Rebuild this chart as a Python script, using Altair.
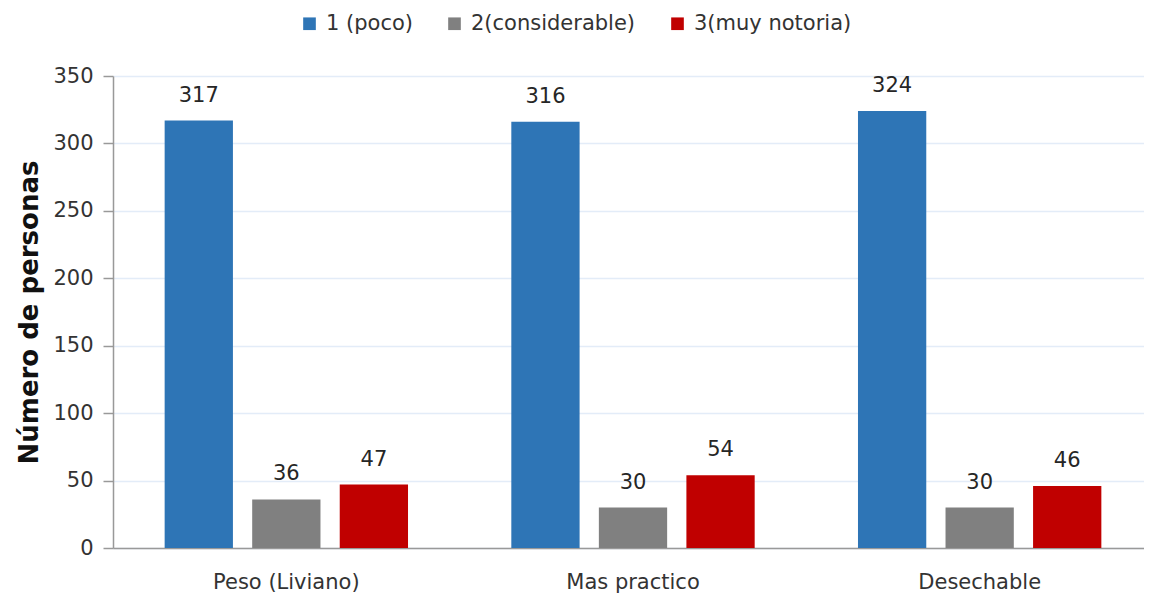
import altair as alt
import pandas as pd

categories = ["Peso (Liviano)", "Mas practico", "Desechable"]
series = ["1 (poco)", "2(considerable)", "3(muy notoria)"]
poco = [317, 316, 324]
considerable = [36, 30, 30]
notoria = [47, 54, 46]
colors = ["#2e75b6", "#808080", "#c00000"]

rows = []
for i, c in enumerate(categories):
    for s, vals in zip(series, [poco, considerable, notoria]):
        rows.append({"cat": c, "serie": s, "valor": vals[i]})
df = pd.DataFrame(rows)

FONT = "DejaVu Sans"
FS = 21

x_enc = alt.X("cat:N", sort=categories, title=None,
              scale=alt.Scale(paddingInner=0, paddingOuter=0, range=[0, 1040]),
              axis=alt.Axis(labelAngle=0, ticks=False, labelPadding=23,
                            labelFontSize=FS, labelColor="#333333", labelFont=FONT,
                            domainColor="#999999", domainWidth=1.5, grid=False))
xoff = alt.XOffset("serie:N", sort=series,
                   scale=alt.Scale(paddingInner=0.22, paddingOuter=0.59))
y_enc = alt.Y("valor:Q", title="Número de personas",
              scale=alt.Scale(domain=[0, 350], nice=False),
              axis=alt.Axis(values=list(range(0, 351, 50)), tickSize=10, tickColor="#999999",
                            tickWidth=1.5, domainColor="#999999", domainWidth=1.5,
                            labelFontSize=FS, labelColor="#333333", labelFont=FONT,
                            labelPadding=10, gridColor="#e3ecf8", gridWidth=1.5,
                            titleFontSize=26, titleFont=FONT, titleFontWeight="bold",
                            titleColor="#111111", titlePadding=10))

bars = alt.Chart(df).mark_bar().encode(
    x=x_enc, xOffset=xoff, y=y_enc,
    color=alt.Color("serie:N", sort=series,
                    scale=alt.Scale(domain=series, range=colors),
                    legend=alt.Legend(title=None, orient="none", direction="horizontal",
                                      legendX=186, legendY=-63,
                                      symbolType="square", symbolSize=160,
                                      symbolStrokeWidth=0, labelFontSize=FS,
                                      labelFont=FONT, labelColor="#333333",
                                      labelLimit=400,
                                      labelOffset=6, columnPadding=31))
)

text = alt.Chart(df).mark_text(baseline="bottom", dy=-15, fontSize=FS, font=FONT,
                               color="#262626").encode(
    x=alt.X("cat:N", sort=categories), xOffset=xoff, y="valor:Q", text="valor:Q"
)

chart = alt.layer(bars, text).properties(
    width=1031, height=472,
    autosize=alt.AutoSizeParams(type="none"),
    padding={"left": 105, "top": 68, "right": 0, "bottom": 48}
).configure_view(stroke=None)

chart.save("out.html", embed_options={"renderer": "svg", "actions": False})
